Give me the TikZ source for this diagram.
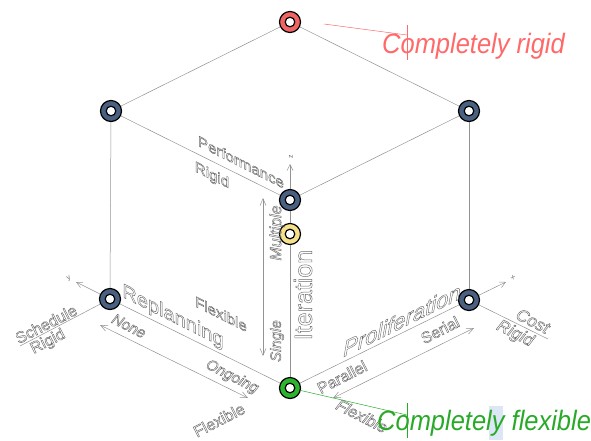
\documentclass[tikz,border=0pt]{standalone}
\usepackage{fontspec}
\setmainfont{Liberation Sans}
\usetikzlibrary{arrows.meta}
\definecolor{vred}{RGB}{240,100,100}
\definecolor{vblue}{RGB}{74,96,128}
\definecolor{vyel}{RGB}{245,225,140}
\definecolor{vgreen}{RGB}{45,180,45}
\definecolor{tred}{RGB}{255,105,105}
\definecolor{tgreen}{RGB}{40,170,40}
\definecolor{hilite}{RGB}{220,230,245}
\definecolor{lbl}{RGB}{105,105,105}
\newcommand\outl[1]{\special{pdf:literal direct 1 Tr 0.45 w}#1\special{pdf:literal direct 0 Tr}}
\begin{document}
\begin{tikzpicture}[x=1pt,y=-1pt,
  vtx/.style={circle,draw=black,line width=1.2pt,minimum size=21pt,inner sep=0pt,
    path picture={\draw[black,line width=1.2pt,fill=white] (path picture bounding box.center) circle[radius=4.8pt];}},
  edge/.style={draw=gray!85,line width=0.5pt},
  axis/.style={draw=gray!85,line width=0.5pt,-{Straight Barb[length=6pt,width=6pt]}},
  dbl/.style={draw=gray!85,line width=0.5pt,{Straight Barb[length=7pt,width=6pt]}-{Straight Barb[length=7pt,width=6pt]}},
  lab/.style={text=lbl,inner sep=0pt,anchor=center},
  isoL/.style={lab,yslant=-0.5},
  isoR/.style={lab,yslant=0.5},
  rotL/.style={lab,rotate=-27},
  rotR/.style={lab,rotate=27},
  vert/.style={lab,rotate=90},
  big/.style={inner sep=0pt,anchor=base west,xscale=0.91,font=\fontsize{28}{32}\selectfont\itshape}
]
\useasboundingbox (0,0) rectangle (591,440);
\fill[hilite] (489,406) rectangle (503,440);
% vertices
\node[vtx,fill=vred]   (top) at (290,22) {};
\node[vtx,fill=vblue]  (ul)  at (111,111) {};
\node[vtx,fill=vblue]  (ur)  at (469,111) {};
\node[vtx,fill=vblue]  (ctr) at (290,200) {};
\node[vtx,fill=vblue]  (ll)  at (110,299) {};
\node[vtx,fill=vblue]  (lr)  at (469,300) {};
\node[vtx,fill=vgreen] (bot) at (290,388) {};
\node[vtx,fill=vyel]   (yel) at (290,234) {};
% cube edges
\draw[edge] (top) -- (ul);
\draw[edge] (top) -- (ur);
\draw[edge] (ul) -- (ctr);
\draw[edge] (ur) -- (ctr);
\draw[edge] (ul) -- (ll);
\draw[edge] (ur) -- (lr);
\draw[edge] (ctr) -- (yel);
\draw[edge] (yel) -- (bot);
\draw[edge] (ll) -- (bot);
\draw[edge] (lr) -- (bot);
% axes
\coordinate (zend) at (290,164);
\coordinate (yend) at (76,282);
\coordinate (xend) at (506,282);
\draw[axis] (ctr) -- (zend);
\draw[axis] (ll) -- (yend);
\draw[axis] (lr) -- (xend);
\node[vert,font=\fontsize{7}{8}\selectfont] (zl) at (291,157) {z};
\node[lab,rotate=27,font=\fontsize{7}{8}\selectfont] (yl) at (69,279) {y};
\node[lab,rotate=-27,font=\fontsize{7}{8}\selectfont] (xl) at (513,278) {x};
% separators
\coordinate (schedEnd) at (20,346);
\coordinate (costEnd) at (548,339);
\draw[edge] (ll) -- (schedEnd);
\draw[edge] (lr) -- (costEnd);
% double arrows
\coordinate (vA) at (263,198);
\coordinate (vB) at (263,356);
\coordinate (lA) at (100,325);
\coordinate (lB) at (248,398);
\coordinate (rA) at (333,398);
\coordinate (rB) at (474,328);
\draw[dbl] (vA) -- (vB);
\draw[dbl] (lA) -- (lB);
\draw[dbl] (rA) -- (rB);
% labels
\node[isoL,font=\fontsize{15}{18}\selectfont] (perf) at (241,162) {\outl{Performance}};
\node[isoL,font=\fontsize{15}{18}\selectfont] (rigT) at (212,176) {\outl{Rigid}};
\node[isoL,font=\fontsize{15}{18}\selectfont] (flexU) at (221,314) {\outl{Flexible}};
\node[isoL,font=\fontsize{20}{24}\selectfont] (repl) at (173,317) {\outl{Replanning}};
\node[rotL,font=\fontsize{15}{18}\selectfont\itshape] (none) at (129,326) {\outl{None}};
\node[rotL,font=\fontsize{15}{18}\selectfont\itshape] (ongo) at (232,377) {\outl{Ongoing}};
\node[rotR,font=\fontsize{16}{18}\selectfont] (sched) at (46,324) {\outl{Schedule}};
\node[rotR,font=\fontsize{16}{18}\selectfont] (rigL) at (48,342) {\outl{Rigid}};
\node[rotR,font=\fontsize{16}{18}\selectfont] (flexBL) at (219,420) {\outl{Flexible}};
\node[isoR,font=\fontsize{22}{26}\selectfont\itshape] (prol) at (402,320) {\outl{Proliferation}};
\node[rotR,font=\fontsize{16}{18}\selectfont] (ser) at (440,330) {\outl{Serial}};
\node[rotR,font=\fontsize{16}{18}\selectfont] (par) at (342,377) {\outl{Parallel}};
\node[rotL,font=\fontsize{16}{18}\selectfont\itshape] (flexBR) at (362,416) {\outl{Flexible}};
\node[rotL,font=\fontsize{17}{20}\selectfont\itshape] (cost) at (533,321) {\outl{Cost}};
\node[rotL,font=\fontsize{17}{20}\selectfont\itshape] (rigR) at (515,334) {\outl{Rigid}};
\node[vert,font=\fontsize{16}{18}\selectfont\itshape] (mult) at (277,233) {\outl{Multiple}};
\node[vert,font=\fontsize{15}{18}\selectfont\itshape] (sing) at (277,341) {\outl{Single}};
\node[vert,font=\fontsize{25}{28}\selectfont] (iter) at (303,295) {\outl{Iteration}};
% callouts
\coordinate (rS) at (324,24);
\coordinate (rE) at (407,35);
\coordinate (rc1) at (407,25);
\coordinate (rc2) at (407,60);
\draw[tred,line width=0.5pt] (rS) -- (rE);
\draw[tred,line width=0.5pt] (rc1) -- (rc2);
\node[big,text=tred] (crig) at (382,53) {Completely rigid};
\coordinate (gE) at (407,415);
\coordinate (gc1) at (407,403);
\coordinate (gc2) at (407,438);
\draw[tgreen,line width=0.5pt] (bot) -- (gE);
\draw[tgreen,line width=0.5pt] (gc1) -- (gc2);
\node[big,text=tgreen] (cflex) at (377,430) {Completely flexible};
\end{tikzpicture}
\end{document}
